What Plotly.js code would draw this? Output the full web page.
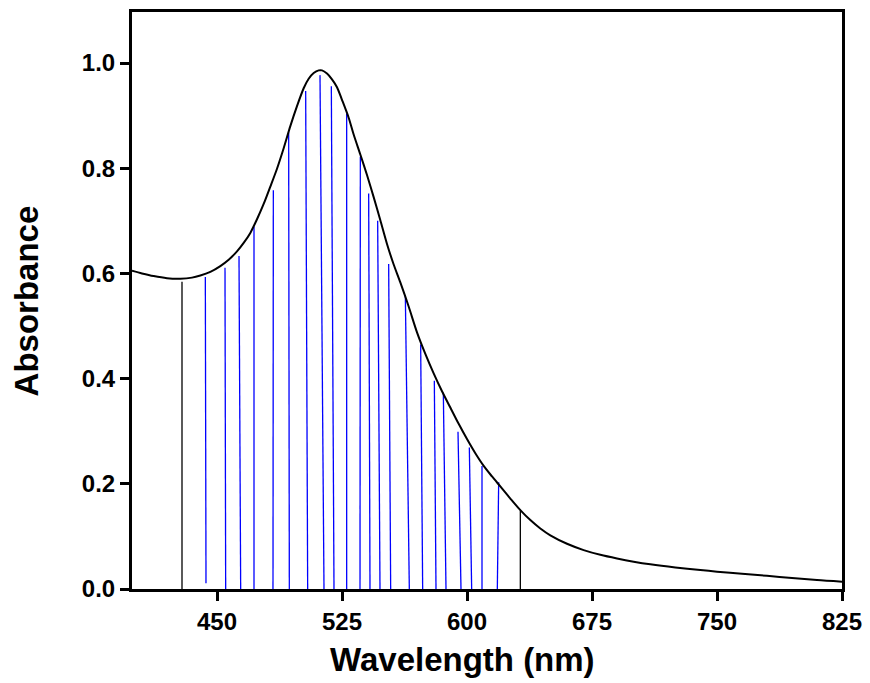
<!DOCTYPE html>
<html>
<head>
<meta charset="utf-8">
<script src="https://cdn.plot.ly/plotly-3.0.1.min.js"></script>
<style>
html,body{margin:0;padding:0;background:#fff;}
#chart{width:870px;height:683px;}
</style>
</head>
<body>
<div id="chart"></div>
<script>
// Absorbance spectrum (black curve)
const wavelength = [399,405,412,420,428,435,440,446,452,457,462,466,470,474,478,482,486,490,494,498,502,505,508,511,513,516,519,522,525,529,532,536,540,544,548,552,556,560,565,570,575,580,585,590,595,600,605,610,615,620,626,632,638,644,650,660,670,680,690,700,710,725,740,750,765,780,795,810,825];
const absorbance = [0.605,0.600,0.595,0.591,0.590,0.592,0.596,0.603,0.614,0.626,0.642,0.658,0.677,0.703,0.732,0.765,0.799,0.838,0.880,0.918,0.952,0.970,0.981,0.986,0.986,0.980,0.969,0.954,0.930,0.896,0.864,0.826,0.787,0.745,0.701,0.656,0.617,0.583,0.537,0.488,0.447,0.410,0.376,0.345,0.314,0.285,0.258,0.234,0.214,0.195,0.172,0.150,0.131,0.115,0.102,0.086,0.074,0.065,0.058,0.052,0.047,0.041,0.036,0.033,0.029,0.025,0.021,0.017,0.014];

// Blue drop lines: wavelength at the base, wavelength at the top, absorbance at the top
const blueBaseX = [443.4,455.2,464.2,472.2,483.6,493.4,504.4,514.2,520.2,527.8,535.8,541.8,547.8,554.2,565.4,573.4,581.4,587.4,596.4,602.8,609.0,618.2];
const blueTopX  = [443.0,454.8,463.2,472.2,483.8,493.0,503.2,511.8,518.6,527.8,536.0,541.0,546.4,553.0,563.0,572.2,580.4,585.8,594.6,601.4,609.0,619.0];
const blueTopY  = [0.593,0.611,0.633,0.689,0.758,0.868,0.947,0.977,0.956,0.904,0.822,0.752,0.700,0.618,0.559,0.465,0.396,0.373,0.299,0.269,0.234,0.203];
const blueBaseY = [0.011,0,0,0,0,0,0,0,0,0,0,0,0,0,0,0,0,0,0,0,0,0];

// Black boundary drop lines
const blackX    = [429.0,632.0];
const blackTopY = [0.584,0.149];

// Axis ticks
const xTicks = [450,525,600,675,750,825];
const yTicks = [0.0,0.2,0.4,0.6,0.8,1.0];

function segs(x0, x1, y0, y1){
  const xs=[], ys=[];
  for(let i=0;i<x0.length;i++){ xs.push(x0[i], x1[i], null); ys.push(y0[i], y1[i], null); }
  return {xs, ys};
}
const b = segs(blueBaseX, blueTopX, blueBaseY, blueTopY);
const k = segs(blackX, blackX, blackX.map(()=>0), blackTopY);

const traces = [
  {x:b.xs, y:b.ys, mode:'lines', type:'scatter', line:{color:'#0000ff', width:1.3}, hoverinfo:'skip', showlegend:false},
  {x:k.xs, y:k.ys, mode:'lines', type:'scatter', line:{color:'#000000', width:1.3}, hoverinfo:'skip', showlegend:false},
  {x:wavelength, y:absorbance, mode:'lines', type:'scatter', line:{color:'#000000', width:2, shape:'spline', smoothing:0.8}, showlegend:false}
];

const FONT = '"Liberation Sans", Arial, sans-serif';
const tickFont = {family:FONT, size:24, color:'#000', weight:'bold'};
const layout = {
  width:870, height:683,
  margin:{l:132, r:28, t:12, b:94},
  paper_bgcolor:'#fff', plot_bgcolor:'#fff',
  showlegend:false,
  xaxis:{
    range:[399,825], tickvals:xTicks, ticktext:xTicks.map(String),
    ticks:'outside', ticklen:9, tickwidth:3, tickcolor:'#000',
    showline:true, linewidth:3, linecolor:'#000', mirror:true,
    showgrid:false, zeroline:false,
    tickfont:tickFont
  },
  yaxis:{
    range:[0,1.097], tickvals:yTicks, ticktext:yTicks.map(v=>v.toFixed(1)),
    ticks:'outside', ticklen:9, tickwidth:3, tickcolor:'#000',
    showline:true, linewidth:3, linecolor:'#000', mirror:true,
    showgrid:false, zeroline:false,
    tickfont:tickFont
  },
  annotations:[
    {text:'<b>Wavelength (nm)</b>', xref:'paper', yref:'paper', x:0.4648, y:-0.123, xanchor:'center', yanchor:'middle', showarrow:false, font:{family:FONT, size:33, color:'#000'}},
    {text:'<b>Absorbance</b>', xref:'paper', yref:'paper', x:-0.148, y:0.5, xanchor:'center', yanchor:'middle', textangle:-90, showarrow:false, font:{family:FONT, size:33, color:'#000'}}
  ]
};
Plotly.newPlot('chart', traces, layout, {displayModeBar:false, staticPlot:true});
</script>
</body>
</html>
